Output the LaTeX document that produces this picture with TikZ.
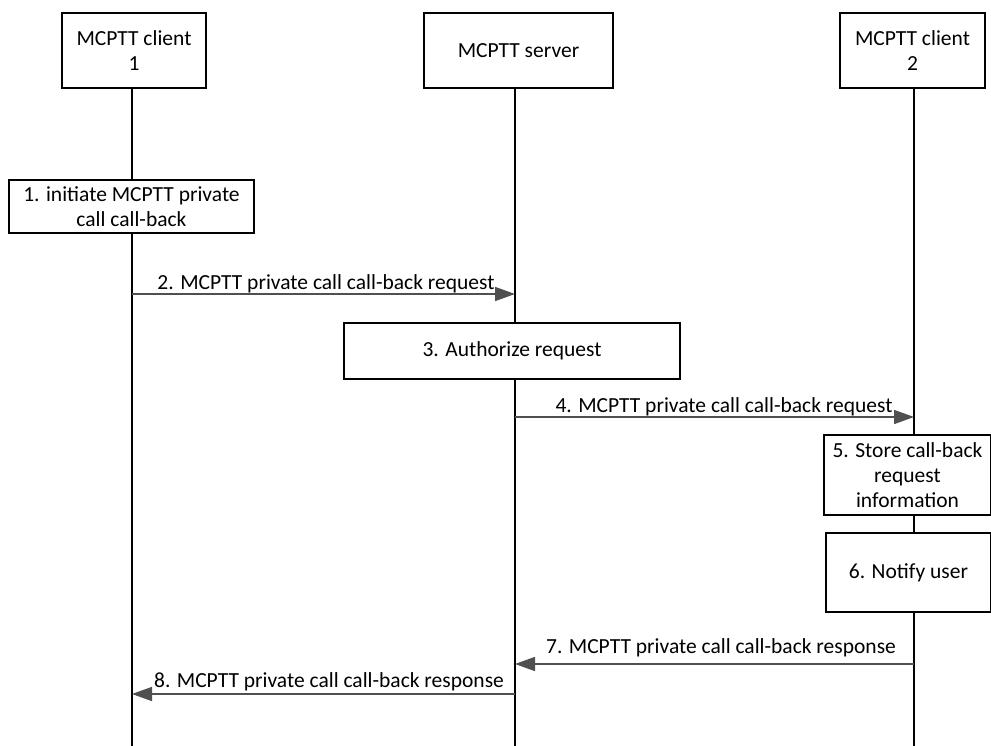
\documentclass[tikz,border=0pt]{standalone}
\usepackage{fontspec}
\setmainfont{Carlito}
\usepackage{tikz}
\usetikzlibrary{arrows.meta, positioning, calc}

\definecolor{msggray}{RGB}{80,80,80}

\begin{document}
\begin{tikzpicture}[
        x=1pt, y=-1pt,
        font=\fontsize{21.5}{25}\selectfont,
        head/.style={rectangle, draw=black, line width=1.6pt, minimum height=75pt, align=center, inner sep=2pt},
        action/.style={rectangle, draw=black, line width=1.6pt, align=center, inner sep=2pt},
        life/.style={line width=1.6pt, black},
        msg/.style={-{Triangle[length=20pt, width=14pt]}, line width=1.6pt, msggray},
        msglabel/.style={midway, anchor=base, text=black}
    ]
        \useasboundingbox (0,0) rectangle (991,746);

        % Entities
        \node[head, minimum width=144pt] (cl1) at (134,50.5) {MCPTT client\\1};
        \node[head, minimum width=189pt] (srv) at (518.5,50.5) {MCPTT server};
        \node[head, minimum width=145pt] (cl2) at (912.5,50.5) {MCPTT client\\2};

        % Lifelines
        \coordinate (cl1end) at (132,746);
        \coordinate (srvend) at (515,746);
        \coordinate (cl2end) at (914,746);
        \draw[life] (cl1.south -| cl1end) -- (cl1end);
        \draw[life] (srv.south -| srvend) -- (srvend);
        \draw[life] (cl2.south -| cl2end) -- (cl2end);

        % Actions
        \node[action, minimum width=245pt, minimum height=53pt, fill=white] (initiate) at (131.5,206.5) {1. initiate MCPTT private\\call call-back};
        \node[action, minimum width=336pt, minimum height=56pt, fill=white] (authorize) at (512,351) {3. Authorize request};
        \node[action, minimum width=167pt, minimum height=80pt, fill=white] (store) at (907.5,475) {5. Store call-back\\request\\information};
        \node[action, minimum width=165pt, minimum height=79pt, fill=white] (notify) at (908.5,572.5) {6. Notify user};

        % Message points
        \coordinate (req1a) at (132,294);
        \coordinate (req1b) at (515,294);
        \coordinate (req2a) at (515,417);
        \coordinate (req2b) at (914,417);
        \coordinate (rsp1a) at (914,664);
        \coordinate (rsp1b) at (515,664);
        \coordinate (rsp2a) at (515,694);
        \coordinate (rsp2b) at (132,694);

        % Messages
        \draw[msg] (req1a) -- (req1b) node[msglabel, xshift=2.5pt, yshift=4.5pt] {2. MCPTT private call call-back request};
        \draw[msg] (req2a) -- (req2b) node[msglabel, xshift=9.5pt, yshift=4.5pt] {4. MCPTT private call call-back request};
        \draw[msg] (rsp1a) -- (rsp1b) node[msglabel, xshift=6.5pt, yshift=11pt] {7. MCPTT private call call-back response};
        \draw[msg] (rsp2a) -- (rsp2b) node[msglabel, xshift=5.5pt, yshift=7pt] {8. MCPTT private call call-back response};
    \end{tikzpicture}
\end{document}
